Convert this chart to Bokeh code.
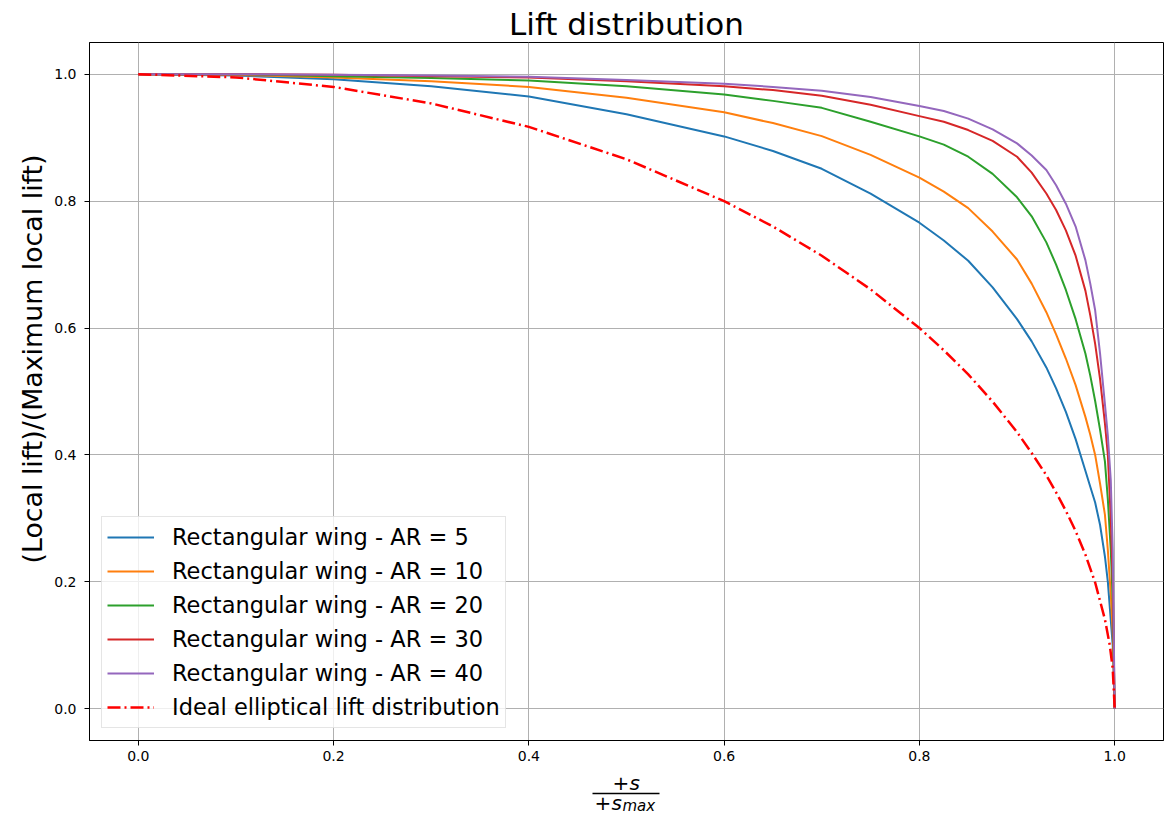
from bokeh.plotting import figure
from bokeh.layouts import column
from bokeh.models import (Range1d, FixedTicker, PrintfTickFormatter, Title,
                          Legend, LegendItem)
from bokeh.core.properties import value
from bokeh.embed import file_html
from bokeh.resources import INLINE

FONT = "DejaVu Sans"

# ---- data ----
x_wing = [0.0, 0.1, 0.2, 0.3, 0.4, 0.5, 0.6, 0.65, 0.7, 0.75, 0.8, 0.825, 0.85,
          0.875, 0.9, 0.915, 0.93, 0.94, 0.95, 0.96, 0.97, 0.975, 0.98, 0.985,
          0.99, 0.993, 0.996, 0.998, 1.0]
ar5 = [1.0, 0.998, 0.992, 0.981, 0.965, 0.937, 0.902, 0.879, 0.851, 0.812, 0.766,
       0.738, 0.706, 0.664, 0.614, 0.579, 0.538, 0.505, 0.468, 0.425, 0.375, 0.35,
       0.325, 0.29, 0.24, 0.20, 0.14, 0.10, 0.0]
ar10 = [1.0, 0.999, 0.995, 0.989, 0.980, 0.963, 0.940, 0.923, 0.9025, 0.873, 0.837,
        0.815, 0.789, 0.752, 0.708, 0.670, 0.625, 0.59, 0.552, 0.51, 0.46, 0.432,
        0.40, 0.355, 0.306, 0.25, 0.18, 0.12, 0.0]
ar20 = [1.0, 1.0, 0.997, 0.994, 0.990, 0.981, 0.968, 0.958, 0.947, 0.925, 0.902,
        0.889, 0.870, 0.843, 0.806, 0.776, 0.735, 0.70, 0.66, 0.614, 0.56, 0.525,
        0.485, 0.44, 0.39, 0.33, 0.25, 0.17, 0.0]
ar30 = [1.0, 1.0, 0.999, 0.997, 0.995, 0.989, 0.981, 0.975, 0.966, 0.952, 0.934,
        0.925, 0.912, 0.895, 0.870, 0.845, 0.812, 0.786, 0.754, 0.714, 0.659, 0.62,
        0.575, 0.52, 0.45, 0.40, 0.30, 0.20, 0.0]
ar40 = [1.0, 1.0, 0.999, 0.998, 0.996, 0.991, 0.985, 0.980, 0.974, 0.964, 0.950,
        0.942, 0.930, 0.913, 0.891, 0.872, 0.849, 0.825, 0.796, 0.76, 0.707, 0.67,
        0.628, 0.56, 0.48, 0.43, 0.36, 0.25, 0.0]

x_ideal = [0.0, 0.1, 0.2, 0.3, 0.4, 0.5, 0.6, 0.65, 0.7, 0.75, 0.8, 0.825, 0.85,
           0.875, 0.9, 0.915, 0.93, 0.94, 0.95, 0.96, 0.97, 0.98, 0.99, 0.995,
           0.998, 1.0]
ideal = [1.0, 0.995, 0.98, 0.954, 0.917, 0.866, 0.8, 0.76, 0.714, 0.661, 0.6,
         0.565, 0.527, 0.484, 0.436, 0.403, 0.368, 0.341, 0.312, 0.28, 0.243,
         0.199, 0.141, 0.1, 0.063, 0.0]

wing_series = [ar5, ar10, ar20, ar30, ar40]
wing_labels = ["Rectangular wing - AR = 5", "Rectangular wing - AR = 10",
               "Rectangular wing - AR = 20", "Rectangular wing - AR = 30",
               "Rectangular wing - AR = 40"]
ideal_label = "Ideal elliptical lift distribution"
wing_colors = ["#1f77b4", "#ff7f0e", "#2ca02c", "#d62728", "#9467bd"]

ticks = [0.0, 0.2, 0.4, 0.6, 0.8, 1.0]
title_text = "Lift distribution"
ylabel_text = "(Local lift)/(Maximum local lift)"

# ---- main figure ----
p = figure(width=1168, height=770, output_backend="svg", toolbar_location=None,
           x_range=Range1d(-0.05, 1.05), y_range=Range1d(-0.05, 1.05),
           min_border_left=89, min_border_right=5, min_border_top=42,
           min_border_bottom=30, background_fill_color="white",
           border_fill_color="white")

p.title.text = title_text
p.title.align = "center"
p.title.text_font = FONT
p.title.text_font_size = "31px"
p.title.text_font_style = "normal"
p.title.text_color = "black"
p.title.standoff = 2

for ax in (p.xaxis[0], p.yaxis[0]):
    ax.ticker = FixedTicker(ticks=ticks)
    ax.formatter = PrintfTickFormatter(format="%.1f")
    ax.major_label_text_font = FONT
    ax.major_label_text_font_size = "14px"
    ax.major_label_text_color = "black"
    ax.major_tick_out = 5
    ax.major_tick_in = 0
    ax.minor_tick_out = 0
    ax.minor_tick_in = 0
    ax.axis_line_color = "black"
    ax.major_tick_line_color = "black"

p.xaxis.major_label_standoff = 5
p.yaxis.major_label_standoff = 8

# y-axis label (placed like the reference, slightly above the frame centre)
ylab = Title(text=ylabel_text, align="left", offset=177, text_font=FONT,
             text_font_size="26.8px", text_font_style="normal",
             text_color="black", standoff=8)
p.add_layout(ylab, "left")

p.grid.grid_line_color = "#b0b0b0"
p.grid.grid_line_width = 1
p.outline_line_color = "black"
p.outline_line_width = 1
p.outline_line_alpha = 1

items = []
for ys, lab, col in zip(wing_series, wing_labels, wing_colors):
    r = p.line(x_wing, ys, line_color=col, line_width=2)
    items.append(LegendItem(label=lab, renderers=[r]))
r_ideal = p.line(x_ideal, ideal, line_color="#ff0000", line_width=2.5,
                 line_dash="13 4 2 4")
items.append(LegendItem(label=ideal_label, renderers=[r_ideal]))

legend = Legend(items=items, location="bottom_left")
legend.label_text_font = FONT
legend.label_text_font_size = "22.5px"
legend.label_text_color = "black"
legend.glyph_width = 47
legend.glyph_height = 30
legend.label_height = 30
legend.spacing = 4
legend.padding = 5
legend.margin = 12
legend.label_standoff = 18
legend.background_fill_alpha = 0.8
legend.border_line_color = "#cccccc"
legend.border_line_width = 1
p.add_layout(legend)

# ---- x-axis label strip: fraction (+s) / (+s_max) ----
# coordinates in this strip are page pixels (x: frame 89..1163, y: 770..814)
q = figure(width=1168, height=44, output_backend="svg", toolbar_location=None,
           title=None, x_range=Range1d(89, 1163), y_range=Range1d(814, 770),
           x_axis_type=None, y_axis_type=None,
           min_border_left=89, min_border_right=5, min_border_top=0,
           min_border_bottom=0, outline_line_color=None,
           background_fill_color="white", border_fill_color="white")
q.grid.visible = False

common = dict(text_font=value(FONT), text_baseline="middle", text_align="left",
              text_color="black")
q.text(x=[612], y=[782], text=["+"], text_font_size="20px", **common)
q.text(x=[629], y=[782], text=["s"], text_font_size="20px",
       text_font_style="italic", **common)
q.segment(x0=[592], y0=[793], x1=[659], y1=[793], line_color="black",
          line_width=1.5)
q.text(x=[594], y=[802], text=["+"], text_font_size="20px", **common)
q.text(x=[611], y=[802], text=["s"], text_font_size="20px",
       text_font_style="italic", **common)
q.text(x=[622], y=[805], text=["max"], text_font_size="15px",
       text_font_style="italic", **common)

layout = column(p, q, spacing=0)
open("out.html", "w").write(file_html(layout, INLINE))
